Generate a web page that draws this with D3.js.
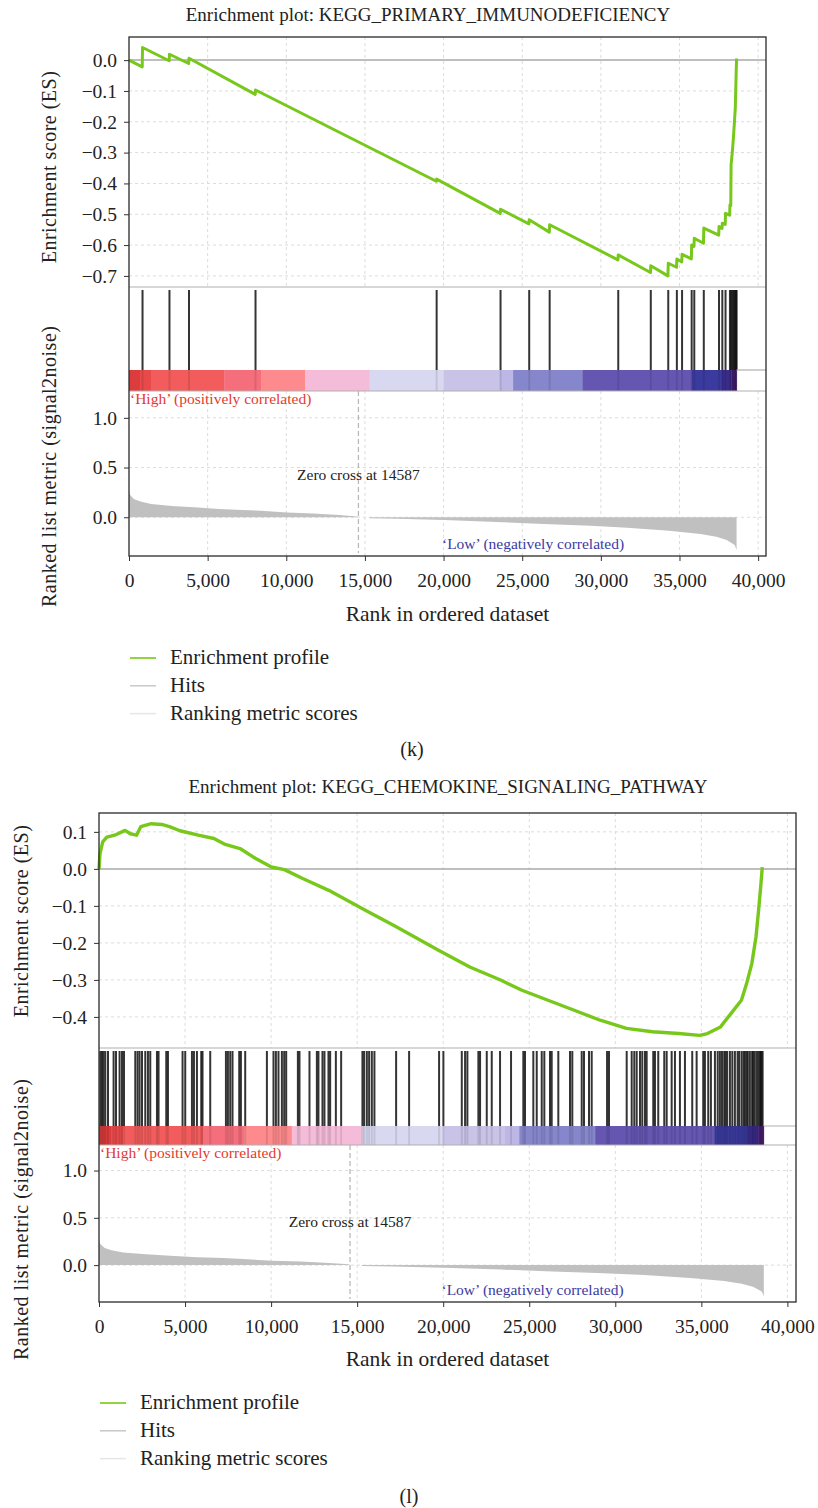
<!DOCTYPE html>
<html>
<head>
<meta charset="utf-8">
<script src="https://cdn.jsdelivr.net/npm/d3@7"></script>
<style>
  body { margin: 0; background: #fff; }
  svg text.serif { font-family: "Liberation Serif", "Times New Roman", serif; }
</style>
</head>
<body>
<div id="chart"></div>
<script>
// ---- data ----
var rankTicks = [0, 5000, 10000, 15000, 20000, 25000, 30000, 35000, 40000];
var metricTicks = [0, 0.5, 1.0];
var esTicksK = [0, -0.1, -0.2, -0.3, -0.4, -0.5, -0.6, -0.7];
var esTicksL = [0.1, 0, -0.1, -0.2, -0.3, -0.4];
var zeroCross = 14587;

// ranked list metric (signal2noise), [rank, value]
var metricData = [
  [0, 0.276], [60, 0.225], [330, 0.18], [730, 0.158], [1400, 0.134], [2730, 0.114],
  [4390, 0.097], [5720, 0.084], [7220, 0.074], [8380, 0.064], [10050, 0.047],
  [11710, 0.037], [13380, 0.023], [14500, 0.008], [14587, 0], [15250, 0],
  [15310, -0.01], [17040, -0.014], [20040, -0.027], [23360, -0.047], [26360, -0.068],
  [29350, -0.085], [31680, -0.105], [34340, -0.135], [36340, -0.169], [37340, -0.196],
  [38000, -0.229], [38510, -0.28], [38630, -0.33]
];

// colour bar, rank breaks and the colour of each stretch
var colorBarBreaks = [0, 700, 1400, 6050, 8420, 11200, 15300, 20000, 23560, 24420, 28830, 35770, 37700, 38300, 38630];
var colorBarColors = ["#dc3c3c", "#e84a4a", "#f25c5c", "#f56e7c", "#fd8a8c", "#f4bcd9", "#d9d8f1",
  "#c9c3e7", "#bdb7e6", "#8686cc", "#6556b2", "#3b3b9f", "#3a2c8c", "#4a2278"];

// (k) KEGG_PRIMARY_IMMUNODEFICIENCY
var hitsK = [860, 2573, 3815, 8044, 19560, 23622, 25445, 26745, 31106, 33175, 34285, 34833,
  35164, 35774, 35940, 36545, 37513, 37723, 37927, 38208, 38280, 38361, 38430, 38494, 38550, 38600, 38628];
var esK = [
  [0, 0], [840, -0.022], [860, 0.041], [2553, -0.002], [2573, 0.019], [3795, -0.011], [3815, 0.006],
  [8024, -0.111], [8044, -0.097], [19540, -0.393], [19560, -0.386], [23602, -0.497], [23622, -0.484],
  [25425, -0.531], [25445, -0.518], [26725, -0.558], [26745, -0.534], [31086, -0.648], [31106, -0.632],
  [33155, -0.689], [33175, -0.667], [34265, -0.700], [34285, -0.659], [34813, -0.672], [34833, -0.645],
  [35144, -0.655], [35164, -0.630], [35754, -0.645], [35774, -0.600], [35920, -0.604], [35940, -0.578],
  [36525, -0.594], [36545, -0.545], [37493, -0.568], [37513, -0.540], [37703, -0.546], [37723, -0.529],
  [37907, -0.533], [37927, -0.497], [38188, -0.503], [38208, -0.470], [38260, -0.472], [38280, -0.340],
  [38361, -0.297], [38430, -0.251], [38494, -0.200], [38550, -0.153], [38600, -0.049], [38628, 0.005]
];

// (l) KEGG_CHEMOKINE_SIGNALING_PATHWAY
var hitsL = [75, 174, 267, 366, 523, 848, 987, 1196, 1336, 1452, 2108, 2241, 2358, 2497, 2689, 2845,
  2979, 3368, 3461, 3908, 4007, 4855, 5011, 5401, 5517, 5691, 5941, 6016, 6463, 7375, 7491, 7625,
  7758, 8147, 8246, 8496, 9756, 10139, 10279, 10429, 10627, 10761, 10877, 11556, 11649, 12230,
  12659, 12752, 12985, 13101, 13333, 13432, 13763, 14070, 15307, 15406, 15563, 15696, 15853,
  16004, 17264, 18019, 19761, 20011, 21080, 21271, 21405, 22044, 22142, 22531, 22821, 23303,
  23942, 24656, 24755, 25237, 25435, 25725, 25876, 26207, 26305, 26689, 27368, 27502, 28048,
  28181, 28472, 28629, 29520, 29634, 30662, 30952, 31103, 31243, 31434, 31568, 31724, 31823,
  32206, 32305, 32496, 32845, 32985, 33275, 33466, 33756, 34047, 34471, 34726, 35109, 35208,
  35400, 35556, 35789, 35950, 36079, 36200, 36329, 36410, 36500, 36660, 36800, 36950, 37107,
  37200, 37339, 37450, 37531, 37630, 37700, 37821, 37950, 38013, 38100, 38210, 38300, 38402,
  38450, 38501, 38560];
var esL = [
  [0, 0], [58, 0.041], [215, 0.073], [453, 0.086], [912, 0.091], [1516, 0.104], [1818, 0.095],
  [2183, 0.091], [2427, 0.114], [3037, 0.122], [3641, 0.12], [4094, 0.114], [4704, 0.103],
  [5766, 0.091], [6678, 0.082], [7282, 0.067], [8194, 0.055], [9106, 0.028], [10018, 0.005],
  [10773, -0.002], [11835, -0.026], [13350, -0.058], [15476, -0.112], [17299, -0.157],
  [19726, -0.220], [21544, -0.265], [23367, -0.301], [24575, -0.328], [26091, -0.355],
  [27612, -0.382], [29122, -0.409], [30649, -0.431], [32165, -0.440], [33686, -0.445],
  [34900, -0.450], [35353, -0.445], [36114, -0.427], [36718, -0.391], [37328, -0.355],
  [37630, -0.310], [37932, -0.256], [38175, -0.184], [38326, -0.112], [38448, -0.049], [38541, 0.005]
];

var legendLabels = ["Enrichment profile", "Hits", "Ranking metric scores"];

// ---- drawing ----
var svgWidth = 818;
var svgHeight = 1508;
var serifFont = "'Liberation Serif', 'Times New Roman', serif";

var svg = d3.select("#chart")
  .append("svg")
  .attr("width", svgWidth)
  .attr("height", svgHeight);

var plots = [
  { title: "Enrichment plot: KEGG_PRIMARY_IMMUNODEFICIENCY", es: esK, hits: hitsK, esTicks: esTicksK,
    esDomain: [-0.736, 0.075], left: 129, right: 766, top: 37, esBottom: 287, barTop: 370, barBottom: 391,
    bottom: 556, titleX: 428, titleY: 21, yTitleX: 56, esTitleY: 167, rankTitleY: 607, xTitleY: 621,
    highY: 404, lowY: 549, zeroY: 480, legendX: 130, legendY: 658, letter: "(k)", letterX: 412,
    letterY: 756, lineWidth: 3, hitWidth: 2 },
  { title: "Enrichment plot: KEGG_CHEMOKINE_SIGNALING_PATHWAY", es: esL, hits: hitsL, esTicks: esTicksL,
    esDomain: [-0.484, 0.151], left: 99, right: 796, top: 813, esBottom: 1048, barTop: 1126, barBottom: 1145,
    bottom: 1302, titleX: 448, titleY: 793, yTitleX: 28, esTitleY: 921, rankTitleY: 1360, xTitleY: 1366,
    highY: 1158, lowY: 1295, zeroY: 1227, legendX: 100, legendY: 1403, letter: "(l)", letterX: 409,
    letterY: 1503, lineWidth: 3.4, hitWidth: 2 }
];

plots.forEach(drawPlot);

// every label in the serif face
svg.selectAll("text")
  .classed("serif", true)
  .style("font-family", serifFont);

function drawPlot(p) {
  var g = svg.append("g");

  var x = d3.scaleLinear().domain([0, 40500]).range([p.left, p.right]);
  var yEs = d3.scaleLinear().domain(p.esDomain).range([p.esBottom, p.top]);
  var yMet = d3.scaleLinear().domain([-0.39, 1.27]).range([p.bottom, p.barBottom]);

  // dashed grid
  var grid = g.append("g")
    .attr("stroke", "#dcdcdc")
    .attr("stroke-width", 1)
    .attr("stroke-dasharray", "3,3");
  grid.selectAll(".vEs").data(rankTicks.slice(1)).enter().append("line")
    .attr("x1", d => x(d)).attr("x2", d => x(d))
    .attr("y1", p.top).attr("y2", p.esBottom);
  grid.selectAll(".vMet").data(rankTicks.slice(1)).enter().append("line")
    .attr("x1", d => x(d)).attr("x2", d => x(d))
    .attr("y1", p.barBottom).attr("y2", p.bottom);
  grid.selectAll(".hEs").data(p.esTicks.filter(d => d !== 0)).enter().append("line")
    .attr("x1", p.left).attr("x2", p.right)
    .attr("y1", d => yEs(d)).attr("y2", d => yEs(d));
  grid.selectAll(".hMet").data(metricTicks).enter().append("line")
    .attr("x1", p.left).attr("x2", p.right)
    .attr("y1", d => yMet(d)).attr("y2", d => yMet(d));

  // ES zero line
  g.append("line")
    .attr("x1", p.left).attr("x2", p.right)
    .attr("y1", yEs(0)).attr("y2", yEs(0))
    .attr("stroke", "#a8a8a8")
    .attr("stroke-width", 1.5);

  // ranked list metric
  var area = d3.area()
    .x(d => x(d[0]))
    .y0(yMet(0))
    .y1(d => yMet(d[1]));
  g.append("path")
    .datum(metricData)
    .attr("d", area)
    .attr("fill", "#c0c0c0");

  // zero cross marker
  g.append("line")
    .attr("x1", x(zeroCross)).attr("x2", x(zeroCross))
    .attr("y1", p.barBottom).attr("y2", p.bottom - 3)
    .attr("stroke", "#b8b8b8")
    .attr("stroke-width", 1.3)
    .attr("stroke-dasharray", "5,3");

  // colour bar
  g.selectAll(".bar")
    .data(colorBarColors)
    .enter()
    .append("rect")
    .attr("x", (d, i) => x(colorBarBreaks[i]))
    .attr("width", (d, i) => x(colorBarBreaks[i + 1]) - x(colorBarBreaks[i]) + 0.3)
    .attr("y", p.barTop)
    .attr("height", p.barBottom - p.barTop)
    .attr("fill", d => d);

  // hits, and their faint trace on the colour bar
  g.selectAll(".hit")
    .data(p.hits)
    .enter()
    .append("line")
    .attr("x1", d => x(d)).attr("x2", d => x(d))
    .attr("y1", p.esBottom + 3).attr("y2", p.barTop)
    .attr("stroke", "#111")
    .attr("stroke-opacity", 0.85)
    .attr("stroke-width", p.hitWidth);
  g.selectAll(".hitTrace")
    .data(p.hits)
    .enter()
    .append("line")
    .attr("x1", d => x(d)).attr("x2", d => x(d))
    .attr("y1", p.barTop).attr("y2", p.barBottom)
    .attr("stroke", "#000")
    .attr("stroke-opacity", 0.1)
    .attr("stroke-width", p.hitWidth);

  // panel separators
  [p.esBottom, p.barTop, p.barBottom].forEach(function(yy, i) {
    g.append("line")
      .attr("x1", i === 1 ? x(colorBarBreaks[colorBarBreaks.length - 1]) : p.left)
      .attr("x2", p.right)
      .attr("y1", yy).attr("y2", yy)
      .attr("stroke", "#b0b0b0")
      .attr("stroke-width", 1.2);
  });

  // enrichment profile
  var line = d3.line()
    .x(d => x(d[0]))
    .y(d => yEs(d[1]));
  g.append("path")
    .datum(p.es)
    .attr("d", line)
    .attr("fill", "none")
    .attr("stroke", "#78c81c")
    .attr("stroke-width", p.lineWidth)
    .attr("stroke-linejoin", "round");

  // frame
  g.append("rect")
    .attr("x", p.left).attr("y", p.top)
    .attr("width", p.right - p.left)
    .attr("height", p.bottom - p.top)
    .attr("fill", "none")
    .attr("stroke", "#2a2a2a")
    .attr("stroke-width", 1.3);

  // axes
  var esAxis = g.append("g")
    .attr("transform", `translate(${p.left},0)`)
    .call(d3.axisLeft(yEs).tickValues(p.esTicks).tickFormat(d3.format(".1f")).tickSize(5).tickPadding(7));
  var metAxis = g.append("g")
    .attr("transform", `translate(${p.left},0)`)
    .call(d3.axisLeft(yMet).tickValues(metricTicks).tickFormat(d3.format(".1f")).tickSize(5).tickPadding(7));
  var xAxis = g.append("g")
    .attr("transform", `translate(0,${p.bottom})`)
    .call(d3.axisBottom(x).tickValues(rankTicks).tickFormat(d3.format(",")).tickSize(5).tickPadding(12));
  [esAxis, metAxis, xAxis].forEach(function(ax) {
    ax.select(".domain").remove();
    ax.attr("font-family", serifFont).attr("font-size", 19.5).attr("color", "#333");
    ax.selectAll("text").attr("fill", "#222");
  });

  // titles
  g.append("text")
    .attr("x", p.titleX).attr("y", p.titleY)
    .attr("text-anchor", "middle")
    .attr("font-size", 19)
    .attr("fill", "#222")
    .text(p.title);
  g.append("text")
    .attr("transform", `translate(${p.yTitleX},${p.esTitleY}) rotate(-90)`)
    .attr("text-anchor", "middle")
    .attr("font-size", 20)
    .attr("letter-spacing", 0.5)
    .attr("fill", "#222")
    .text("Enrichment score (ES)");
  g.append("text")
    .attr("transform", `translate(${p.yTitleX},${p.rankTitleY}) rotate(-90)`)
    .attr("text-anchor", "start")
    .attr("font-size", 20)
    .attr("letter-spacing", 0.5)
    .attr("fill", "#222")
    .text("Ranked list metric (signal2noise)");
  g.append("text")
    .attr("x", (p.left + p.right) / 2).attr("y", p.xTitleY)
    .attr("text-anchor", "middle")
    .attr("font-size", 21.5)
    .attr("fill", "#222")
    .text("Rank in ordered dataset");

  // annotations
  g.append("text")
    .attr("x", p.left + 1).attr("y", p.highY)
    .attr("font-size", 15.5)
    .attr("fill", "#e23a30")
    .text("\u2018High\u2019 (positively correlated)");
  g.append("text")
    .attr("x", x(19900)).attr("y", p.lowY)
    .attr("font-size", 15.5)
    .attr("fill", "#3a3aa4")
    .text("\u2018Low\u2019 (negatively correlated)");
  g.append("text")
    .attr("x", x(zeroCross)).attr("y", p.zeroY)
    .attr("text-anchor", "middle")
    .attr("font-size", 15.5)
    .attr("fill", "#222")
    .text("Zero cross at " + zeroCross);

  // legend
  var legendColors = ["#6cc400", "#c8c8c8", "#e6e6e6"];
  var legend = g.append("g")
    .attr("transform", `translate(${p.legendX},${p.legendY})`);
  legend.selectAll("line")
    .data(legendLabels)
    .enter()
    .append("line")
    .attr("x1", 0).attr("x2", 26)
    .attr("y1", (d, i) => i * 27.8).attr("y2", (d, i) => i * 27.8)
    .attr("stroke", (d, i) => legendColors[i])
    .attr("stroke-width", 1.5);
  legend.selectAll("text")
    .data(legendLabels)
    .enter()
    .append("text")
    .attr("x", 40)
    .attr("y", (d, i) => i * 27.8 + 6)
    .attr("font-size", 21)
    .attr("fill", "#222")
    .text(d => d);

  g.append("text")
    .attr("x", p.letterX).attr("y", p.letterY)
    .attr("text-anchor", "middle")
    .attr("font-size", 20)
    .attr("fill", "#222")
    .text(p.letter);
}
</script>
</body>
</html>
